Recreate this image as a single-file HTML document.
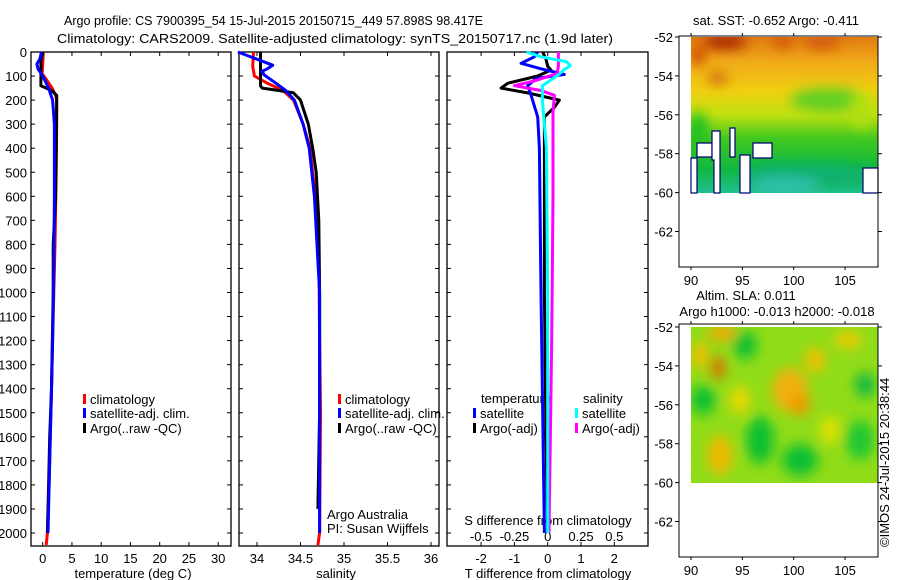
<!DOCTYPE html>
<html><head><meta charset="utf-8"><style>
html,body{margin:0;padding:0;background:#fff;}
svg{display:block;font-family:"Liberation Sans",sans-serif;}
text{font-size:13px;fill:#000;}
</style></head><body>
<svg id="c" width="900" height="580" viewBox="0 0 900 580">
<defs>
<filter id="bl" x="-50%" y="-50%" width="200%" height="200%"><feGaussianBlur stdDeviation="6"/></filter>
<clipPath id="cTop"><rect x="691" y="37" width="187" height="156"/></clipPath>
<clipPath id="cBot"><rect x="691" y="327" width="187" height="156"/></clipPath>
<linearGradient id="gTop" x1="0" y1="0" x2="0" y2="1">
<stop offset="0" stop-color="#e07a10"/><stop offset="0.15" stop-color="#f0a818"/><stop offset="0.35" stop-color="#f0d010"/>
<stop offset="0.5" stop-color="#c0e010"/><stop offset="0.65" stop-color="#40c820"/><stop offset="0.85" stop-color="#10b840"/><stop offset="1" stop-color="#20c090"/>
</linearGradient>
</defs>
<text x="64" y="25" font-size="14" textLength="419" lengthAdjust="spacingAndGlyphs">Argo profile: CS 7900395_54 15-Jul-2015 20150715_449 57.898S 98.417E</text>
<text x="57" y="43" font-size="14" textLength="556" lengthAdjust="spacingAndGlyphs">Climatology: CARS2009. Satellite-adjusted climatology: synTS_20150717.nc (1.9d later)</text>
<g id="axes"></g>
<g id="series"></g>

<g>
<text x="776" y="25" text-anchor="middle" font-size="12.5">sat. SST: -0.652 Argo: -0.411</text>
<g clip-path="url(#cTop)">
<rect x="691" y="37" width="187" height="156" fill="url(#gTop)"/>
<g filter="url(#bl)">
<ellipse cx="725" cy="42" rx="22" ry="7" fill="#a82000"/>
<ellipse cx="698" cy="55" rx="8" ry="10" fill="#d05000"/>
<ellipse cx="718" cy="78" rx="10" ry="7" fill="#d87010"/>
<ellipse cx="783" cy="42" rx="10" ry="6" fill="#d05000"/>
<ellipse cx="822" cy="42" rx="18" ry="7" fill="#d05810"/>
<ellipse cx="830" cy="100" rx="40" ry="12" fill="#60d020"/>
<ellipse cx="862" cy="110" rx="12" ry="18" fill="#b0e010"/>
<ellipse cx="805" cy="175" rx="65" ry="12" fill="#10b070"/>
<ellipse cx="785" cy="185" rx="35" ry="8" fill="#30c0b0"/>
<ellipse cx="698" cy="130" rx="10" ry="18" fill="#20c020"/>
</g>
</g>
<g fill="#fff" stroke="#000070" stroke-width="1.2">
<path d="M691 158 L697 158 L697 193 L691 193 Z"/>
<path d="M697 143 L712 143 L712 157 L697 157 Z"/>
<path d="M712 131 L720 131 L720 193 L714 193 L714 160 L712 160 Z"/>
<path d="M730 128 L735 128 L735 157 L730 157 Z"/>
<path d="M740 155 L750 155 L750 193 L740 193 Z"/>
<path d="M753 143 L772 143 L772 158 L753 158 Z"/>
<path d="M863 168 L878 168 L878 193 L863 193 Z"/>
</g>
<rect x="679" y="36" width="199" height="231" fill="none" stroke="#000"/>
</g>

<g>
<text x="746" y="300" text-anchor="middle" font-size="12.5">Altim. SLA: 0.011</text>
<text x="777" y="316" text-anchor="middle" font-size="12.5">Argo h1000: -0.013 h2000: -0.018</text>
<g clip-path="url(#cBot)">
<rect x="691" y="327" width="187" height="156" fill="#90dc18"/>
<g filter="url(#bl)">
<ellipse cx="700" cy="355" rx="8" ry="14" fill="#f0c000"/>
<ellipse cx="722" cy="333" rx="14" ry="8" fill="#f0a800"/>
<ellipse cx="718" cy="368" rx="7" ry="12" fill="#d87000"/>
<ellipse cx="790" cy="390" rx="18" ry="22" fill="#f0b010"/>
<ellipse cx="800" cy="405" rx="10" ry="10" fill="#f09800"/>
<ellipse cx="815" cy="360" rx="10" ry="12" fill="#f0c000"/>
<ellipse cx="848" cy="340" rx="14" ry="8" fill="#f0c800"/>
<ellipse cx="720" cy="455" rx="12" ry="20" fill="#f0b800"/>
<ellipse cx="703" cy="400" rx="12" ry="15" fill="#10c030"/>
<ellipse cx="760" cy="440" rx="14" ry="24" fill="#10c030"/>
<ellipse cx="800" cy="460" rx="18" ry="16" fill="#10c030"/>
<ellipse cx="745" cy="345" rx="12" ry="14" fill="#10c030"/>
<ellipse cx="865" cy="385" rx="10" ry="12" fill="#10b840"/>
<ellipse cx="860" cy="440" rx="14" ry="20" fill="#20c830"/>
<ellipse cx="830" cy="430" rx="10" ry="14" fill="#e0e000"/>
<ellipse cx="740" cy="400" rx="10" ry="14" fill="#e8d800"/>
</g>
</g>
<rect x="679" y="324" width="199" height="233" fill="none" stroke="#000"/>
<text transform="translate(889,547) rotate(-90)" font-size="12.5">©IMOS 24-Jul-2015 20:38:44</text>
</g>
</svg>
<script>
// ---- data ----
var tempDepths = [0,50,90,110,150,180,200,300,500,800,1000,1200,1400,1600,1800,2000,2050];
var tempClim   = [0.1,0.0,-0.1,0.5,1.6,2.2,2.4,2.4,2.3,2.1,1.9,1.7,1.5,1.3,1.1,0.8,0.6];
var tempSatDepths = [0,30,50,70,100,150,200,300,600,900,1200,1400,1700,2000];
var tempSat    = [-0.2,-0.5,-1.0,-0.8,0.0,1.0,1.7,2.0,2.0,1.9,1.7,1.5,1.2,0.9];
var tempArgoDepths = [0,40,100,140,160,180,200,400,600,800,1000,1400,1600,1800,2000];
var tempArgo   = [0.0,-0.3,-0.3,-0.3,1.5,2.4,2.4,2.3,2.2,1.8,1.8,1.5,1.2,1.0,0.8];
var salDepths  = [0,60,100,130,160,200,300,400,600,800,1200,1500,2000,2050];
var salClim    = [33.96,33.95,33.97,34.12,34.3,34.42,34.53,34.61,34.67,34.71,34.72,34.73,34.72,34.70];
var salSatDepths=[0,30,55,70,80,95,130,160,200,300,400,600,1000,2000];
var salSat     = [33.78,34.0,34.18,34.12,34.06,34.08,34.22,34.33,34.43,34.53,34.6,34.66,34.72,34.72];
var salArgoDepths=[0,140,150,160,170,200,300,400,500,700,1000,1500,1900];
var salArgo    = [34.04,34.04,34.06,34.25,34.42,34.5,34.59,34.64,34.68,34.71,34.72,34.72,34.70];
var dTDepths   = [0,30,60,75,100,130,150,170,200,230,270,400,1000,1600,2000];
var dTArgo     = [-0.15,-0.05,0.0,0.1,-0.3,-1.2,-1.4,-0.6,0.35,0.2,-0.1,-0.1,-0.1,-0.05,0.0];
var dTSatDepths= [0,20,47,70,83,93,110,140,180,270,400,1000,2000];
var dTSat      = [-0.3,-0.4,-0.8,-0.2,0.2,0.5,-0.35,-0.6,-0.5,-0.3,-0.25,-0.2,-0.1];
var dSSatDepths= [0,20,40,57,75,95,140,200,400,1000,2000];
var dSSat      = [-0.16,-0.05,0.14,0.17,0.12,0.08,-0.04,-0.04,-0.01,0.0,0.0];
var dSArgoDepths=[0,60,90,120,140,160,180,250,600,1200,2000];
var dSArgo     = [0.08,0.08,0.07,-0.1,-0.25,-0.05,0.05,0.04,0.04,0.03,0.01];
var depthTicks = [0,100,200,300,400,500,600,700,800,900,1000,1100,1200,1300,1400,1500,1600,1700,1800,1900,2000];
var tempTicks = [0,5,10,15,20,25,30];
var salTicks = [34,34.5,35,35.5,36];
var dTTicks = [-2,-1,0,1,2];
var dSTicks = [-0.5,-0.25,0,0.25,0.5];

var NS='http://www.w3.org/2000/svg';
function yD(d){return 52+d*0.2405;}
function xT(t){return 42.7+t*5.85;}
function xS(s){return 257+(s-34)*87;}
function xdT(t){return 547.7+t*33.3;}
function xdS(s){return 547.7+s*133.2;}
function mk(tag,attrs,parent){var e=document.createElementNS(NS,tag);for(var k in attrs)e.setAttribute(k,attrs[k]);parent.appendChild(e);return e;}
var axes=document.getElementById('axes'), ser=document.getElementById('series');

var panels=[{x0:31,x1:231,name:'temperature-panel'},{x0:239,x1:439,name:'salinity-panel'},{x0:447,x1:648,name:'difference-panel'}];
var top0=52,bot=546;
panels.forEach(function(p,pi){
  var r=mk('rect',{x:p.x0,y:top0,width:p.x1-p.x0,height:bot-top0,fill:'none',stroke:'#000','stroke-width':1.3},axes);
  
  
  depthTicks.forEach(function(d){
    var y=yD(d);
    mk('line',{x1:p.x0,x2:p.x0+4,y1:y,y2:y,stroke:'#000'},axes);
    mk('line',{x1:p.x1,x2:p.x1-4,y1:y,y2:y,stroke:'#000'},axes);
  });
});
depthTicks.forEach(function(d){
  var t=mk('text',{x:27,y:yD(d)+5,'text-anchor':'end'},axes);t.textContent=d;
  
  
});
function xTicks(vals,fx,y,labels){
  vals.forEach(function(v,i){
    var x=fx(v);
    mk('line',{x1:x,x2:x,y1:top0,y2:top0+4,stroke:'#000'},axes);
    mk('line',{x1:x,x2:x,y1:bot,y2:bot-4,stroke:'#000'},axes);
    if(labels){var t=mk('text',{x:x,y:y,'text-anchor':'middle'},axes);t.textContent=labels[i];
      
      }
  });
}
xTicks(tempTicks,xT,563,tempTicks);
xTicks(salTicks,xS,563,salTicks);
xTicks(dTTicks,xdT,563,dTTicks);
dSTicks.forEach(function(v){var t=mk('text',{x:xdS(v),y:541,'text-anchor':'middle'},axes);t.textContent=v;
  
  });
function lab(x,y,s,name,anchor){var t=mk('text',{x:x,y:y,'text-anchor':anchor||'middle'},axes);t.textContent=s;
  
  return t;}
lab(133,578,'temperature (deg C)','temperature-axis-title');
lab(336,578,'salinity','salinity-axis-title');
lab(548,578,'T difference from climatology','t-diff-axis-title');
lab(548,525,'S difference from climatology','s-diff-axis-title');

function line(depths,vals,fx,color,name){
  var d='';for(var i=0;i<depths.length;i++){d+=(i?'L':'M')+fx(vals[i]).toFixed(1)+' '+yD(depths[i]).toFixed(1);}
  var p=mk('path',{d:d,fill:'none',stroke:color,'stroke-width':3,'stroke-linejoin':'round'},ser);
  
  
}
line(tempDepths,tempClim,xT,'#ff0000','temp-climatology-line');
line(tempArgoDepths,tempArgo,xT,'#000000','temp-argo-line');
line(tempSatDepths,tempSat,xT,'#0000ff','temp-satellite-line');
line(salDepths,salClim,xS,'#ff0000','sal-climatology-line');
line(salArgoDepths,salArgo,xS,'#000000','sal-argo-line');
line(salSatDepths,salSat,xS,'#0000ff','sal-satellite-line');
line(dTDepths,dTArgo,xdT,'#000000','t-diff-argo-line');
line(dTSatDepths,dTSat,xdT,'#0000ff','t-diff-satellite-line');
line(dSArgoDepths,dSArgo,xdS,'#ff00ff','s-diff-argo-line');
line(dSSatDepths,dSSat,xdS,'#00ffff','s-diff-satellite-line');

function legend(x,y,color,s,name){
  mk('rect',{x:x,y:y-10,width:3,height:10,fill:color},axes);
  var t=mk('text',{x:x+7,y:y},axes);t.textContent=s;
  
  
}
legend(83,404,'#ff0000','climatology','legend-climatology');
legend(83,418,'#0000ff','satellite-adj. clim.','legend-satellite-adj');
legend(83,433,'#000000','Argo(..raw -QC)','legend-argo');
legend(338,404,'#ff0000','climatology','legend-sal-climatology');
legend(338,418,'#0000ff','satellite-adj. clim.','legend-sal-satellite-adj');
legend(338,433,'#000000','Argo(..raw -QC)','legend-sal-argo');
lab(327,519,'Argo Australia','argo-australia-note','start');
lab(327,533,'PI: Susan Wijffels','pi-note','start');
lab(481,403,'temperature','legend-temperature-heading','start');
lab(583,403,'salinity','legend-salinity-heading','start');
legend(473,418,'#0000ff','satellite','legend-t-satellite');
legend(473,433,'#000000','Argo(-adj)','legend-t-argo');
legend(575,418,'#00ffff','satellite','legend-s-satellite');
legend(575,433,'#ff00ff','Argo(-adj)','legend-s-argo');

var lonTicks=[90,95,100,105], latTicks=[-52,-54,-56,-58,-60,-62];
function xLon(l){return 691+(l-90)*10.27;}
[[36,267,37],[324,557,327]].forEach(function(m,mi){
  lonTicks.forEach(function(l){var x=xLon(l);
    mk('line',{x1:x,x2:x,y1:m[0],y2:m[0]-3,stroke:'#000'},axes);
    mk('line',{x1:x,x2:x,y1:m[1],y2:m[1]+3,stroke:'#000'},axes);
    var t=mk('text',{x:x,y:m[1]+18,'text-anchor':'middle'},axes);t.textContent=l;
    
    });
  latTicks.forEach(function(la){var y=m[2]+(-52-la)*19.45;
    mk('line',{x1:679,x2:675,y1:y,y2:y,stroke:'#000'},axes);
    mk('line',{x1:878,x2:882,y1:y,y2:y,stroke:'#000'},axes);
    var t=mk('text',{x:673,y:y+5,'text-anchor':'end'},axes);t.textContent=la;
    
    });
});
</script>
</body></html>
